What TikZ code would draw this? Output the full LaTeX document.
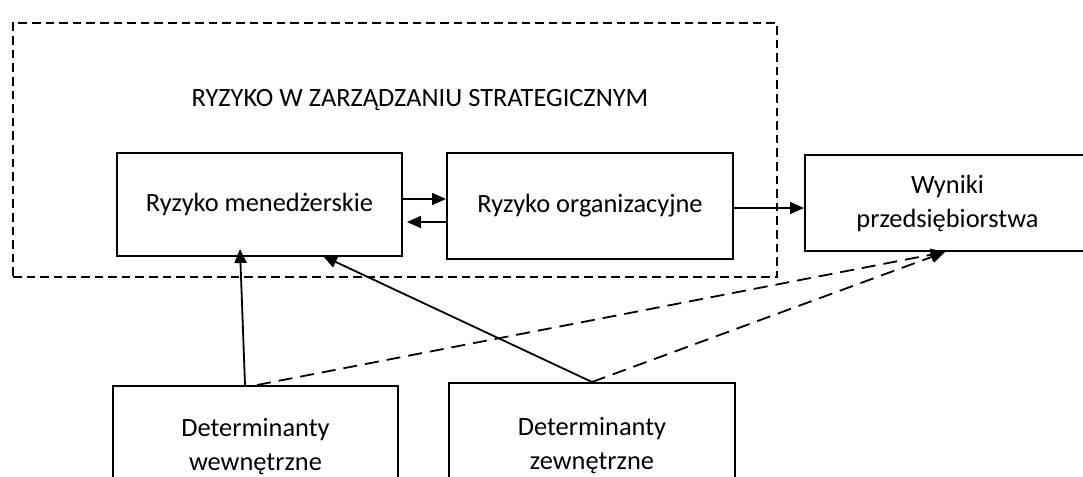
\documentclass[tikz,border=0pt]{standalone}
\usepackage{fontspec}
\setmainfont{Carlito}
\usetikzlibrary{arrows.meta, positioning}

\begin{document}
\begin{tikzpicture}[
    x=0.5pt, y=-0.5pt, every node/.style={font=\fontsize{13.2}{17}\selectfont},
    block/.style={draw, line width=1pt, minimum width=142.5pt, align=center,
                  inner sep=0pt},
    arrow/.style={-{Triangle[length=7pt,width=6pt]}, line width=0.9pt},
    dasharrow/.style={arrow, dash pattern=on 7pt off 4pt},
    frame/.style={draw, line width=0.9pt, dash pattern=on 4.3pt off 2.5pt}
  ]
    \useasboundingbox (0,0) rectangle (1083,477);

    % strategic management frame
    \node[frame, minimum width=382pt, minimum height=127pt] (frame) at (395,150) {};
    \node (title) at (420,100) {RYZYKO W ZARZĄDZANIU STRATEGICZNYM};

    \node[block, minimum height=51.5pt] (men) at (259.5,204.5) {Ryzyko menedżerskie};
    \node[block, minimum width=143pt, minimum height=53pt] (org) at (590,206)
      {Ryzyko organizacyjne};
    \node[block, minimum height=48pt] (wyn) at (947.5,203)
      {Wyniki\\przedsiębiorstwa};

    % determinants (cut at the bottom)
    \node[block, minimum height=61pt] (wew) at (255.5,447)
      {Determinanty\\wewnętrzne};
    \node[block, minimum width=143pt, minimum height=63pt] (zew) at (592,446)
      {Determinanty\\zewnętrzne};

    \draw[arrow] ([yshift=2.75pt]men.east) -- ([yshift=2.75pt]men.east -| org.west);
    \draw[arrow] ([yshift=-8.75pt]men.east -| org.west) -- ([xshift=2pt,yshift=-8.75pt]men.east);
    \draw[arrow] ([yshift=-1pt]org.east) -- ([yshift=-1pt]org.east -| wyn.west);

    \draw[arrow] ([xshift=-5.25pt]wew.north) -- ([xshift=-9.75pt,yshift=4pt]men.south);
    \draw[arrow] (zew.north) -- ([xshift=31.75pt,yshift=0.5pt]men.south);
    \draw[dasharrow] ([xshift=0.75pt]wew.north) -- ([xshift=-1.25pt]wyn.south);
    \draw[dasharrow] (zew.north) -- ([xshift=-1.25pt]wyn.south);
  \end{tikzpicture}
\end{document}
